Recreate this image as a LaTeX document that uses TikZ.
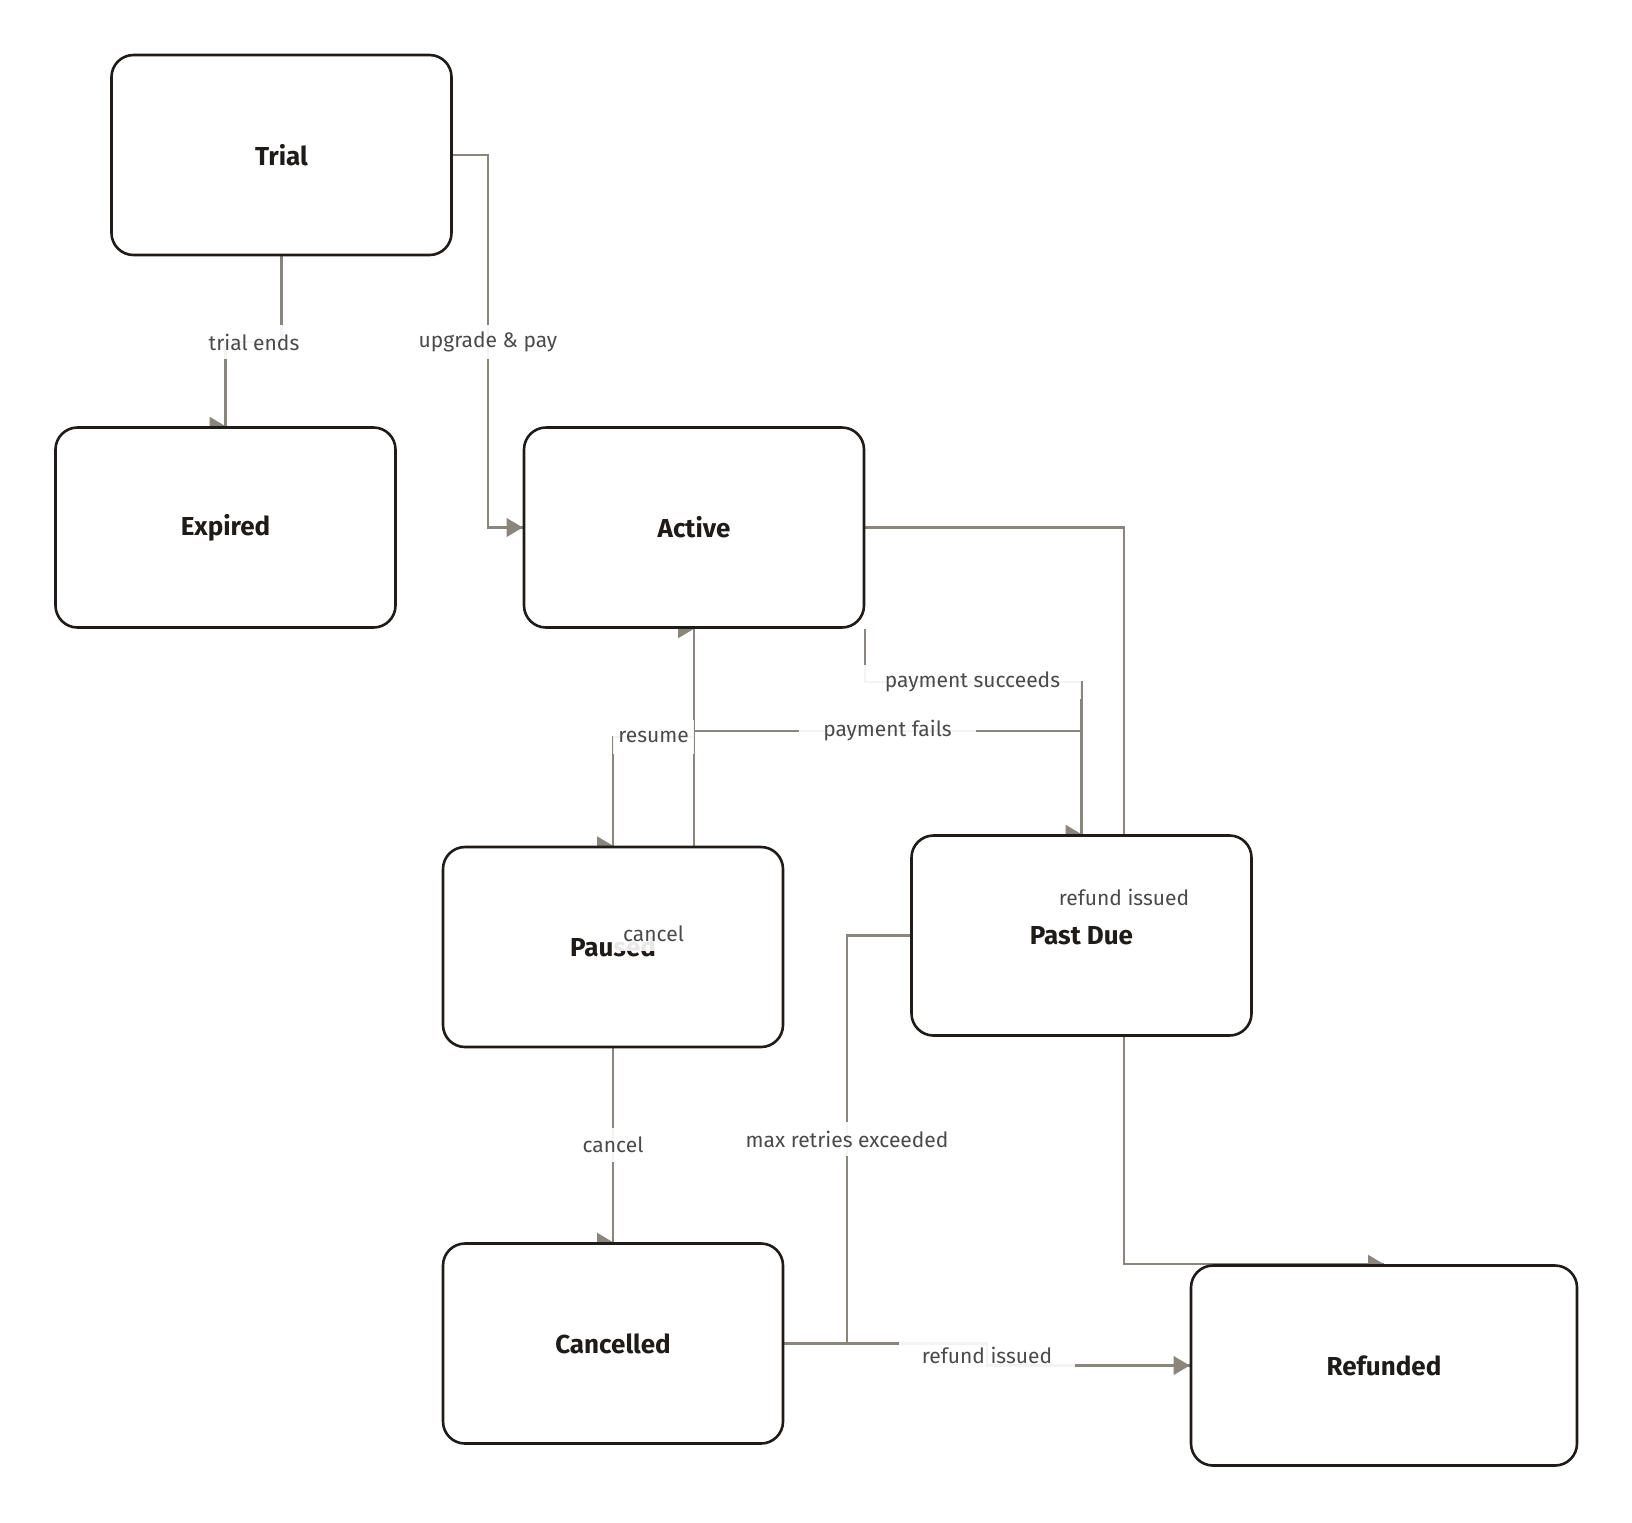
\documentclass[tikz,border=0pt]{standalone}
\usepackage{fontspec}
\setmainfont{Fira Sans}
\pgfdeclarelayer{edges}
\pgfsetlayers{edges,main}
\definecolor{edgec}{HTML}{8A867E}
\definecolor{boxc}{HTML}{1E1B18}
\definecolor{lblc}{HTML}{4A4A4A}
\newcommand\rtip[1]{\fill[edgec] (#1) -- ++(-16,-9.5) -- ++(0,19) -- cycle;}
\begin{document}
\begin{tikzpicture}[x=0.5pt,y=-0.5pt]
\tikzset{
 state/.style={draw=boxc, line width=1.3pt, fill=white, rounded corners=11pt,
   minimum width=170pt, minimum height=100pt, inner sep=0pt,
   font=\fontsize{13}{15}\selectfont\bfseries, text=boxc},
 conn/.style={draw=edgec, line width=1.1pt},
 lbl/.style={fill=white, fill opacity=0.9, text opacity=1, inner sep=0pt,
   minimum height=17pt, font=\fontsize{10.5}{12}\selectfont, text=lblc},
}
\useasboundingbox (0,0) rectangle (1632,1522);

\node[state] (trial) at (281.5,155) {Trial};
\node[state] (expired) at (225.5,527.5) {Expired};
\node[state] (active) at (694,527.5) {Active};
\node[state] (paused) at (613,947) {Paused};
\node[state] (pastdue) at (1081.5,935.5) {Past Due};
\node[state] (cancelled) at (613,1343.5) {Cancelled};
\node[state, minimum width=193pt] (refunded) at (1384,1365.5) {Refunded};

\begin{pgfonlayer}{edges}
% trial ends
\draw[conn] (trial.south) -- (trial.south |- 0,342) -- (expired.north |- 0,342) -- (expired.north);
\rtip{expired.north}
% upgrade & pay
\draw[conn] (trial.east) -- (trial.east -| 488,0) -- (active.west -| 488,0) -- (active.west);
\rtip{active.west}
% resume
\draw[conn] (paused.north) -- (paused.north |- 0,737) -- (active.south |- 0,737) -- (active.south);
\rtip{active.south}
\rtip{paused.north}
% payment fails
\draw[conn] (active.south) -- (active.south |- 0,731) -- (pastdue.north |- 0,731) -- (pastdue.north);
\rtip{pastdue.north}
% payment succeeds
\draw[conn] (active.south east) -- (active.south east |- 0,682) -- (pastdue.north |- 0,682) -- (pastdue.north);
% cancel (Active -> Cancelled)
\draw[conn] (active.south) -- (active.south |- 0,934) -- (cancelled.north |- 0,934) -- (cancelled.north);
\rtip{cancelled.north}
% cancel (Paused -> Cancelled)
\draw[conn] (paused.south) -- (cancelled.north);
% max retries exceeded
\draw[conn] (pastdue.west) -- (pastdue.west -| 847,0) -- (cancelled.east -| 847,0) -- (cancelled.east);
\rtip{cancelled.east}
% refund issued (Cancelled -> Refunded)
\draw[conn] (cancelled.east) -- (cancelled.east -| 987,0) -- (refunded.west -| 987,0) -- (refunded.west);
\rtip{refunded.west}
% refund issued (Active -> Refunded)
\draw[conn] (active.east) -- (active.east -| 1124,0) -- (refunded.north -| 1124,0) -- (refunded.north);
\rtip{refunded.north}
\end{pgfonlayer}

\node[lbl, minimum width=68pt] (l1) at (254,342) {trial ends};
\node[lbl, minimum width=88.4pt] (l2) at (488,342) {upgrade \& pay};
\node[lbl, minimum width=40.8pt] (l3) at (653.5,737) {resume};
\node[lbl, minimum width=108.8pt] (l4) at (972.5,682) {payment succeeds};
\node[lbl, minimum width=88.4pt] (l5) at (887.5,731) {payment fails};
\node[lbl, minimum width=40.8pt] (l6) at (653.5,934) {cancel};
\node[lbl, minimum width=40.8pt] (l7) at (613,1145) {cancel};
\node[lbl, minimum width=88.4pt] (l8) at (1124,897) {refund issued};
\node[lbl, minimum width=136pt] (l9) at (847,1139) {max retries exceeded};
\node[lbl, minimum width=88.4pt] (l10) at (987,1355) {refund issued};
\end{tikzpicture}
\end{document}
